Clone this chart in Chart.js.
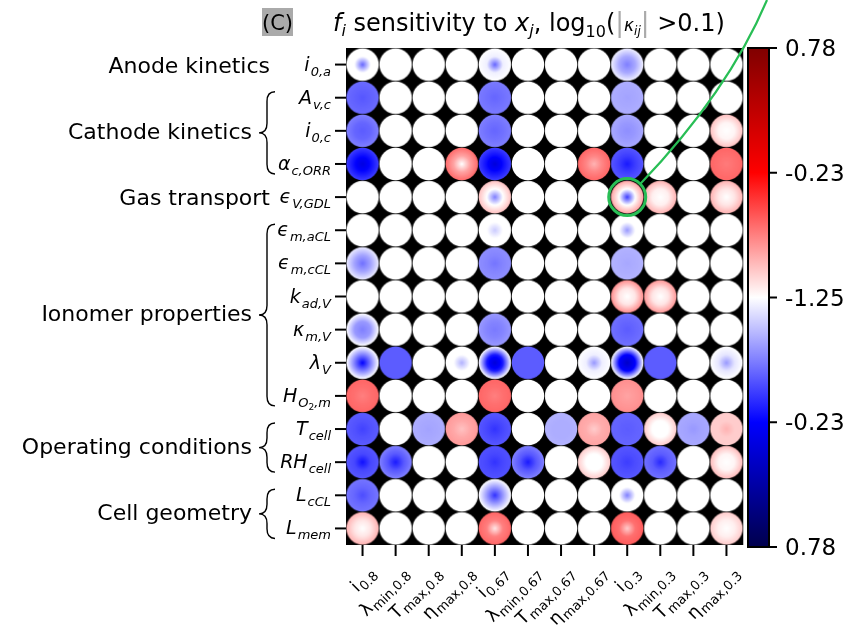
<!DOCTYPE html>
<html>
<head>
<meta charset="utf-8">
<title>f_i sensitivity</title>
<script src="https://cdn.jsdelivr.net/npm/chart.js@4.4.1/dist/chart.umd.min.js"></script>
<style>
	html, body { margin: 0; padding: 0; background: #fff; }
	#wrap { width: 848px; height: 627px; position: relative; }
</style>
</head>
<body>
<div id="wrap"><canvas id="sensChart"></canvas></div>
<script>
/* ── 행/열 라벨 (본문 + 아래첨자) ── */
const rowMain = ['i', 'A', 'i', 'α', 'ϵ', 'ϵ', 'ϵ', 'k', 'κ', 'λ', 'H', 'T', 'RH', 'L', 'L'];
const rowSub  = ['0,a', 'v,c', '0,c', 'c,ORR', 'V,GDL', 'm,aCL', 'm,cCL', 'ad,V', 'm,V', 'V', 'O₂,m', 'cell', 'cell', 'cCL', 'mem'];

const colMain = ['i', 'λ', 'T', 'η', 'i', 'λ', 'T', 'η', 'i', 'λ', 'T', 'η'];
const colSub  = ['0.8', 'min,0.8', 'max,0.8', 'max,0.8',
                 '0.67', 'min,0.67', 'max,0.67', 'max,0.67',
                 '0.3', 'min,0.3', 'max,0.3', 'max,0.3'];

const groups = [
	{ name: 'Anode kinetics',       first: 0,  last: 0,  brace: false },
	{ name: 'Cathode kinetics',     first: 1,  last: 3,  brace: true  },
	{ name: 'Gas transport',        first: 4,  last: 4,  brace: false },
	{ name: 'Ionomer properties',   first: 5,  last: 10, brace: true  },
	{ name: 'Operating conditions', first: 11, last: 12, brace: true  },
	{ name: 'Cell geometry',        first: 13, last: 14, brace: true  }
];

const cbTicks = ['0.78', '-0.23', '-1.25', '-0.23', '0.78'];

/* ── 셀 값 (-1 = 진한 파랑, 0 = 흰색, +1 = 진한 빨강) : 중심 / 중간 / 가장자리 ── */
const centerVals = [
	[-0.30, 0, 0, 0, -0.30, 0, 0, 0, -0.25, 0, 0, 0],
	[-0.33, 0, 0, 0, -0.30, 0, 0, 0, -0.18, 0, 0, 0],
	[-0.32, 0, 0, 0, -0.30, 0, 0, 0, -0.22, 0, 0, 0],
	[-0.58, 0, 0, 0, -0.60, 0, 0, 0.15, -0.45, 0, 0, 0.26],
	[0, 0, 0, 0, -0.25, 0, 0, 0, -0.38, 0, 0, 0],
	[0, 0, 0, 0, -0.10, 0, 0, 0, -0.20, 0, 0, 0],
	[-0.28, 0, 0, 0, -0.27, 0, 0, 0, -0.17, 0, 0, 0],
	[0, 0, 0, 0, 0, 0, 0, 0, 0, 0, 0, 0],
	[-0.25, 0, 0, 0, -0.26, 0, 0, 0, -0.32, 0, 0, 0],
	[-0.50, -0.32, 0, -0.15, -0.60, -0.32, 0, -0.20, -0.65, -0.32, 0, -0.20],
	[0.25, 0, 0, 0, 0.25, 0, 0, 0, 0.18, 0, 0, 0],
	[-0.37, 0, -0.18, 0.12, -0.40, 0, -0.16, 0.10, -0.32, 0, -0.20, 0.15],
	[-0.47, -0.45, 0, 0, -0.40, -0.45, 0, 0, -0.38, -0.42, 0, 0],
	[-0.35, 0, 0, 0, -0.40, 0, 0, 0, -0.25, 0, 0, 0],
	[0, 0, 0, 0, 0.05, 0, 0, 0, 0.10, 0, 0, 0]
];
const midVals = [
	[0, 0, 0, 0, -0.03, 0, 0, 0, -0.17, 0, 0, 0],
	[-0.31, 0, 0, 0, -0.28, 0, 0, 0, -0.17, 0, 0, 0],
	[-0.30, 0, 0, 0, -0.28, 0, 0, 0, -0.20, 0, 0, 0.02],
	[-0.48, 0, 0, 0.18, -0.48, 0, 0, 0.24, -0.38, 0, 0, 0.28],
	[0, 0, 0, 0, 0, 0, 0, 0, 0, 0.03, 0, 0.05],
	[0, 0, 0, 0, 0, 0, 0, 0, 0, 0, 0, 0],
	[-0.18, 0, 0, 0, -0.24, 0, 0, 0, -0.16, 0, 0, 0],
	[0, 0, 0, 0, 0, 0, 0, 0, 0.05, 0.05, 0, 0],
	[-0.20, 0, 0, 0, -0.24, 0, 0, 0, -0.30, 0, 0, 0],
	[-0.25, -0.32, 0, 0, -0.45, -0.32, 0, -0.03, -0.50, -0.32, 0, -0.05],
	[0.28, 0, 0, 0, 0.28, 0, 0, 0, 0.20, 0, 0, 0],
	[-0.34, 0, -0.17, 0.17, -0.36, 0, -0.16, 0.16, -0.31, 0, -0.18, 0.10],
	[-0.36, -0.33, 0, 0, -0.36, -0.33, 0, 0, -0.35, -0.32, 0, 0.02],
	[-0.30, 0, 0, 0, -0.20, 0, 0, 0, 0, 0, 0, 0],
	[0.05, 0, 0, 0, 0.25, 0, 0, 0, 0.28, 0, 0, 0.03]
];
const edgeVals = [
	[0, 0, 0, 0, 0, 0, 0, 0, -0.03, 0, 0, 0],
	[-0.29, 0, 0, 0, -0.26, 0, 0, 0, -0.16, 0, 0, 0],
	[-0.25, 0, 0, 0, -0.25, 0, 0, 0, -0.17, 0, 0, 0.12],
	[-0.38, 0, 0, 0.29, -0.38, 0, 0, 0.30, -0.33, 0, 0, 0.30],
	[0, 0, 0, 0, 0.12, 0, 0, 0, 0.18, 0.15, 0, 0.15],
	[0, 0, 0, 0, 0, 0, 0, 0, 0, 0, 0, 0],
	[-0.04, 0, 0, 0, -0.22, 0, 0, 0, -0.15, 0, 0, 0],
	[0, 0, 0, 0, 0, 0, 0, 0, 0.22, 0.20, 0, 0],
	[0, 0, 0, 0, -0.20, 0, 0, 0, -0.28, 0, 0, 0],
	[0, -0.32, 0, 0, 0, -0.32, 0, 0, 0, -0.32, 0, 0],
	[0.30, 0, 0, 0, 0.30, 0, 0, 0, 0.22, 0, 0, 0],
	[-0.32, 0, -0.16, 0.20, -0.33, 0, -0.15, 0.18, -0.30, 0.10, -0.17, 0.10],
	[-0.33, -0.25, 0, 0, -0.34, -0.25, 0, 0.10, -0.33, -0.28, 0, 0.13],
	[-0.27, 0, 0, 0, 0, 0, 0, 0, 0, 0, 0, 0],
	[0.15, 0, 0, 0, 0.30, 0, 0, 0, 0.32, 0, 0, 0.10]
];

// 초록 원으로 강조한 셀
const highlight = { row: 4, col: 8 };

const FONT = '"DejaVu Sans", sans-serif';

/* ── seismic 컬러맵 ── */
function seismic(v) {
	var t = Math.max(0, Math.min(1, (v + 1) / 2));
	var r, g, b, s;
	if (t < 0.25)      { r = 0; g = 0; b = 0.3 + 0.7 * t / 0.25; }
	else if (t < 0.5)  { s = (t - 0.25) / 0.25; r = s; g = s; b = 1; }
	else if (t < 0.75) { s = (0.75 - t) / 0.25; r = 1; g = s; b = s; }
	else               { r = 1 - 0.5 * (t - 0.75) / 0.25; g = 0; b = 0; }
	return 'rgb(' + Math.round(r * 255) + ',' + Math.round(g * 255) + ',' + Math.round(b * 255) + ')';
}

/* ── 원 스프라이트 (pointStyle 로 사용) ── */
var R = 16.2;
function makeSprite(c, m, e) {
	var cv = document.createElement('canvas');
	cv.width = 36; cv.height = 36;
	var g = cv.getContext('2d');
	var grad = g.createRadialGradient(18, 18, 0, 18, 18, R);
	for (var k = 0; k <= 12; k++) {
		var f = k / 12;
		var v = f <= 0.5 ? c + (m - c) * f / 0.5 : m + (e - m) * (f - 0.5) / 0.5;
		grad.addColorStop(f, seismic(v));
	}
	g.fillStyle = grad;
	g.beginPath();
	g.arc(18, 18, R, 0, Math.PI * 2);
	g.fill();
	return cv;
}

var points = [], sprites = [];
rowMain.forEach(function(_, r) {
	colMain.forEach(function(_, c) {
		points.push({ x: c, y: r });
		sprites.push(makeSprite(centerVals[r][c], midVals[r][c], edgeVals[r][c]));
	});
});

/* ── 본문 + 아래첨자 텍스트 그리기 ── */
function fontOf(p) {
	return (p.it ? 'italic ' : '') + p.px + 'px ' + FONT;
}
function richWidth(ctx, parts) {
	var w = 0;
	parts.forEach(function(p) { ctx.font = fontOf(p); w += ctx.measureText(p.t).width + (p.gap || 0); });
	return w;
}
function drawRich(ctx, parts, x, y) {
	var cx = x;
	parts.forEach(function(p) {
		ctx.font = fontOf(p);
		ctx.fillStyle = p.color || '#000';
		ctx.fillText(p.t, cx + (p.gap || 0), y + (p.dy || 0));
		cx += ctx.measureText(p.t).width + (p.gap || 0);
	});
}
function subParts(main, sub, mainPx, subPx, italic) {
	var parts = [{ t: main, px: mainPx, it: italic }];
	if (sub.indexOf('₂') >= 0) {
		var bits = sub.split('₂');
		parts.push({ t: bits[0], px: subPx, it: italic, dy: 5, gap: 1 });
		parts.push({ t: '2', px: subPx - 4, it: false, dy: 8 });
		parts.push({ t: bits[1], px: subPx, it: italic, dy: 5 });
	} else {
		parts.push({ t: sub, px: subPx, it: italic, dy: 5, gap: 1 });
	}
	return parts;
}

/* ── 중괄호 ── */
function drawBrace(ctx, x, y1, y2, w) {
	var ym = (y1 + y2) / 2, xm = x - w / 2, h = Math.min(w * 0.6, (y2 - y1) / 4);
	ctx.beginPath();
	ctx.moveTo(x, y1);
	ctx.quadraticCurveTo(xm, y1, xm, y1 + h);
	ctx.lineTo(xm, ym - h);
	ctx.quadraticCurveTo(xm, ym, x - w, ym);
	ctx.quadraticCurveTo(xm, ym, xm, ym + h);
	ctx.lineTo(xm, y2 - h);
	ctx.quadraticCurveTo(xm, y2, x, y2);
	ctx.stroke();
}

/* ════════════════════════════════
   플러그인: 검정 배경 / 축 / 라벨 / 컬러바 / 제목
   ════════════════════════════════ */
const blackBg = {
	id: 'blackBg',
	beforeDatasetsDraw(chart) {
		var a = chart.chartArea, ctx = chart.ctx;
		ctx.save();
		ctx.fillStyle = '#000';
		ctx.fillRect(a.left, a.top, a.right - a.left, a.bottom - a.top);
		ctx.restore();
	}
};

const decorations = {
	id: 'decorations',
	afterDraw(chart) {
		var ctx = chart.ctx, a = chart.chartArea;
		var xs = chart.scales.x, ys = chart.scales.y;
		ctx.save();
		ctx.textBaseline = 'alphabetic';

		// 오른쪽 테두리 (연회색)
		ctx.strokeStyle = '#bbb';
		ctx.lineWidth = 1;
		ctx.beginPath(); ctx.moveTo(a.right + 0.5, a.top); ctx.lineTo(a.right + 0.5, a.bottom); ctx.stroke();

		// 왼쪽 눈금 + 행 라벨
		ctx.strokeStyle = '#000';
		ctx.lineWidth = 2;
		rowMain.forEach(function(m, r) {
			var y = ys.getPixelForValue(r);
			ctx.beginPath(); ctx.moveTo(a.left - 11, y); ctx.lineTo(a.left, y); ctx.stroke();
			var parts = subParts(m, rowSub[r], 19, 13, true);
			var w = richWidth(ctx, parts);
			drawRich(ctx, parts, a.left - 15 - w, y + 6);
		});

		// 아래 눈금 + 열 라벨 (45도)
		colMain.forEach(function(m, c) {
			var x = xs.getPixelForValue(c);
			ctx.strokeStyle = '#000';
			ctx.lineWidth = 2;
			ctx.beginPath(); ctx.moveTo(x, a.bottom); ctx.lineTo(x, a.bottom + 11); ctx.stroke();
			var parts = [{ t: m, px: 18 }, { t: colSub[c], px: 13, dy: 4, gap: 1 }];
			var w = richWidth(ctx, parts);
			ctx.save();
			ctx.translate(x + 4, a.bottom + 19);
			ctx.rotate(-Math.PI / 4);
			drawRich(ctx, parts, -w, 14);
			ctx.restore();
		});

		// 그룹 라벨 + 중괄호
		ctx.strokeStyle = '#000';
		ctx.lineWidth = 1.4;
		groups.forEach(function(gp) {
			var y1 = ys.getPixelForValue(gp.first), y2 = ys.getPixelForValue(gp.last);
			var yc = (y1 + y2) / 2;
			ctx.font = '22px ' + FONT;
			ctx.fillStyle = '#000';
			ctx.textAlign = 'right';
			ctx.fillText(gp.name, gp.brace ? 252 : 270, yc + 8);
			ctx.textAlign = 'left';
			if (gp.brace) drawBrace(ctx, 275, y1 - 6, y2 + 10, 16);
		});

		// 컬러바
		var cbL = a.right + 5, cbW = 21, cbT = a.top, cbB = a.bottom + 2;
		var grad = ctx.createLinearGradient(0, cbT, 0, cbB);
		for (var k = 0; k <= 40; k++) grad.addColorStop(k / 40, seismic(1 - 2 * k / 40));
		ctx.fillStyle = grad;
		ctx.fillRect(cbL, cbT, cbW, cbB - cbT);
		ctx.strokeStyle = '#000';
		ctx.lineWidth = 2;
		ctx.strokeRect(cbL, cbT, cbW, cbB - cbT);
		ctx.font = '23px ' + FONT;
		ctx.fillStyle = '#000';
		cbTicks.forEach(function(lbl, i) {
			var y = cbT + (cbB - cbT) * i / (cbTicks.length - 1);
			ctx.beginPath(); ctx.moveTo(cbL + cbW, y); ctx.lineTo(cbL + cbW + 8, y); ctx.stroke();
			ctx.fillText(lbl, cbL + cbW + 16, y + 8);
		});

		// 제목
		ctx.fillStyle = '#aaa';
		ctx.fillRect(262, 8, 31, 28);
		drawRich(ctx, [{ t: '(C)', px: 21 }], 262, 30);
		drawRich(ctx, [
			{ t: 'f', px: 24, it: true },
			{ t: 'i', px: 16, it: true, dy: 5 },
			{ t: ' sensitivity to ', px: 24 },
			{ t: 'x', px: 24, it: true },
			{ t: 'j', px: 16, it: true, dy: 5 },
			{ t: ', log', px: 24 },
			{ t: '10', px: 16, dy: 6 },
			{ t: '(', px: 24 },
			{ t: '|', px: 26, color: '#aaa' },
			{ t: 'κ', px: 17, it: true },
			{ t: 'ij', px: 12, it: true, dy: 4 },
			{ t: '|', px: 26, color: '#aaa' },
			{ t: ' >0.1)', px: 24 }
		], 333, 31);

		// 강조 원 + 곡선
		var hx = xs.getPixelForValue(highlight.col), hy = ys.getPixelForValue(highlight.row);
		ctx.strokeStyle = 'rgb(40,190,85)';
		ctx.lineWidth = 3;
		ctx.beginPath(); ctx.arc(hx, hy, 18.5, 0, Math.PI * 2); ctx.stroke();
		ctx.lineWidth = 2.2;
		ctx.beginPath();
		ctx.moveTo(hx + 13, hy - 13);
		ctx.quadraticCurveTo(728, 92, 767, 0);
		ctx.stroke();

		ctx.restore();
	}
};

/* ── 차트 ── */
new Chart(document.getElementById('sensChart'), {
	type: 'scatter',
	data: {
		datasets: [{
			data: points,
			pointStyle: function(ctx) { return sprites[ctx.dataIndex]; },
			pointRadius: 16,
			pointBorderWidth: 0,
			clip: false
		}]
	},
	options: {
		responsive: true,
		maintainAspectRatio: false,
		animation: false,
		events: [],
		layout: { padding: { left: 346, right: 105, top: 48, bottom: 82 } },
		plugins: { legend: { display: false }, tooltip: { enabled: false } },
		scales: {
			x: { display: false, min: -0.5, max: 11.5 },
			y: { display: false, min: -0.5, max: 14.5, reverse: true }
		}
	},
	plugins: [blackBg, decorations]
});
</script>
</body>
</html>
